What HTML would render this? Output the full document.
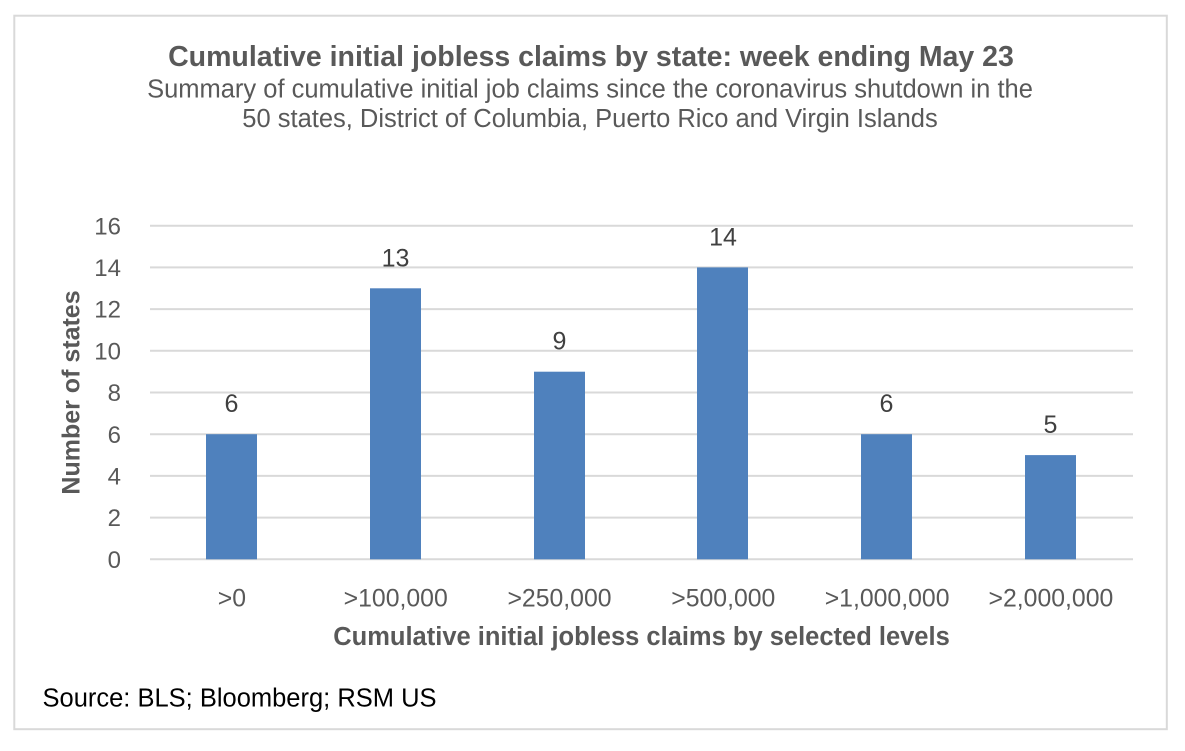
<!DOCTYPE html>
<html>
<head>
<meta charset="utf-8">
<style>
  html, body { margin: 0; padding: 0; background: #fff; }
  svg { display: block; }
  text { font-family: "Liberation Sans", Arial, sans-serif; }
</style>
</head>
<body>
<svg width="1185" height="751" viewBox="0 0 1185 751" xmlns="http://www.w3.org/2000/svg">
  <rect x="0" y="0" width="1185" height="751" fill="#ffffff"/>
  <rect x="14.3" y="15.7" width="1152.5" height="713.5" fill="#ffffff" stroke="#d9d9d9" stroke-width="2"/>

  <!-- Titles -->
  <text x="591" y="66" text-anchor="middle" font-size="28.5" font-weight="bold" fill="#595959">Cumulative initial jobless claims by state: week ending May 23</text>
  <text x="590" y="97.5" text-anchor="middle" font-size="25.5" fill="#595959">Summary of cumulative initial job claims since the coronavirus shutdown in the</text>
  <text x="590" y="127" text-anchor="middle" font-size="25.5" fill="#595959">50 states, District of Columbia, Puerto Rico and Virgin Islands</text>

  <!-- Gridlines -->
  <g stroke="#d9d9d9" stroke-width="2">
    <line x1="150" y1="225.7" x2="1133" y2="225.7"/>
    <line x1="150" y1="267.4" x2="1133" y2="267.4"/>
    <line x1="150" y1="309.1" x2="1133" y2="309.1"/>
    <line x1="150" y1="350.8" x2="1133" y2="350.8"/>
    <line x1="150" y1="392.5" x2="1133" y2="392.5"/>
    <line x1="150" y1="434.2" x2="1133" y2="434.2"/>
    <line x1="150" y1="475.9" x2="1133" y2="475.9"/>
    <line x1="150" y1="517.6" x2="1133" y2="517.6"/>
    <line x1="150" y1="559.3" x2="1133" y2="559.3"/>
  </g>

  <!-- Y tick labels -->
  <g font-size="24" fill="#595959" text-anchor="end">
    <text x="121" y="234.3">16</text>
    <text x="121" y="276">14</text>
    <text x="121" y="317.7">12</text>
    <text x="121" y="359.4">10</text>
    <text x="121" y="401.1">8</text>
    <text x="121" y="442.8">6</text>
    <text x="121" y="484.5">4</text>
    <text x="121" y="526.2">2</text>
    <text x="121" y="567.9">0</text>
  </g>

  <!-- Bars -->
  <g fill="#4f81bd">
    <rect x="206" y="434.2" width="51" height="125.1"/>
    <rect x="370" y="288.3" width="51" height="271"/>
    <rect x="534" y="371.7" width="51" height="187.6"/>
    <rect x="697" y="267.4" width="51" height="291.9"/>
    <rect x="861" y="434.2" width="51" height="125.1"/>
    <rect x="1025" y="455.1" width="51" height="104.2"/>
  </g>

  <!-- Data labels -->
  <g font-size="25" fill="#404040" text-anchor="middle">
    <text x="231.5" y="412.2">6</text>
    <text x="395.5" y="266.3">13</text>
    <text x="559.5" y="349.7">9</text>
    <text x="723" y="245.4">14</text>
    <text x="886.5" y="412.2">6</text>
    <text x="1050.5" y="433.1">5</text>
  </g>

  <!-- X tick labels -->
  <g font-size="24.8" fill="#595959" text-anchor="middle">
    <text x="231.9" y="606.7">&gt;0</text>
    <text x="395.7" y="606.7">&gt;100,000</text>
    <text x="559.5" y="606.7">&gt;250,000</text>
    <text x="723.3" y="606.7">&gt;500,000</text>
    <text x="887.1" y="606.7">&gt;1,000,000</text>
    <text x="1050.9" y="606.7">&gt;2,000,000</text>
  </g>

  <!-- Axis titles -->
  <text x="641.5" y="645" text-anchor="middle" font-size="25.5" font-weight="bold" fill="#595959">Cumulative initial jobless claims by selected levels</text>
  <text transform="translate(79.3,392.5) rotate(-90)" x="0" y="0" text-anchor="middle" font-size="25" font-weight="bold" fill="#595959">Number of states</text>

  <!-- Source -->
  <text x="42.5" y="706.5" font-size="25.5" fill="#000000">Source: BLS; Bloomberg; RSM US</text>
</svg>
</body>
</html>
